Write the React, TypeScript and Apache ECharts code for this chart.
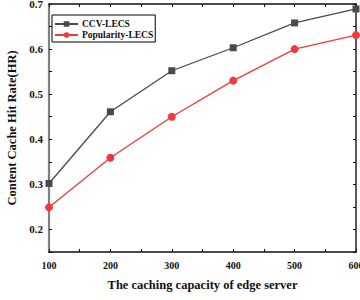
import React, { useEffect, useRef } from "react";
import * as echarts from "echarts";

const capacities = [100, 200, 300, 400, 500, 600];
const ccvLecs = [0.302, 0.461, 0.552, 0.603, 0.658, 0.689];
const popularityLecs = [0.249, 0.359, 0.45, 0.53, 0.6, 0.631];
const seriesNames = ["CCV-LECS", "Popularity-LECS"];

const FONT = "'Liberation Serif', 'Times New Roman', serif";

export default function App() {
  const ref = useRef<HTMLDivElement>(null);
  useEffect(() => {
    if (!ref.current) return;
    const chart = echarts.init(ref.current, undefined, { renderer: "svg" });
    const pair = (arr: number[]) => capacities.map((c, i) => [c, arr[i]]);
    chart.setOption({
      animation: false,
      grid: { left: 49, right: 4, top: 4, bottom: 48, outerBoundsMode: "none", containLabel: false },
      legend: {
        orient: "vertical",
        left: 52,
        top: 15,
        padding: [4, 2, 2, 2],
        itemGap: 1,
        itemWidth: 23,
        itemHeight: 7,
        borderColor: "#000",
        borderWidth: 1,
        textStyle: { fontFamily: FONT, fontWeight: "bold", fontSize: 9.5, color: "#111", padding: [0, 0, 0, -1] },
        data: seriesNames,
      },
      xAxis: [
        {
          type: "value",
          min: 100,
          max: 600,
          interval: 50,
          name: "The caching capacity of edge server",
          nameLocation: "middle",
          nameGap: 26,
          nameTextStyle: { fontFamily: FONT, fontWeight: "bold", fontSize: 12.5, color: "#111" },
          axisLine: { lineStyle: { color: "#111", width: 1.5 } },
          axisTick: { inside: true, length: 3, lineStyle: { color: "#111" } },
          axisLabel: {
            margin: 8,
            fontFamily: FONT,
            fontWeight: "bold",
            fontSize: 10,
            color: "#111",
            alignMinLabel: "center",
            alignMaxLabel: "center",
            formatter: (v: number) => (v % 100 === 0 ? String(v) : ""),
          },
          splitLine: { show: false },
        },
        {
          type: "value",
          position: "top",
          min: 100,
          max: 600,
          interval: 50,
          axisLine: { lineStyle: { color: "#111", width: 1.5 } },
          axisTick: { inside: true, length: 3, lineStyle: { color: "#111" } },
          axisLabel: { show: false },
          splitLine: { show: false },
        },
      ],
      yAxis: [
        {
          type: "value",
          min: 0.15,
          max: 0.7,
          interval: 0.05,
          name: "Content Cache Hit Rate(HR)",
          nameLocation: "middle",
          nameGap: 22,
          nameTextStyle: { fontFamily: FONT, fontWeight: "bold", fontSize: 12.5, color: "#111" },
          axisLine: { lineStyle: { color: "#808080", width: 2.2 } },
          axisTick: { inside: true, length: 3, lineStyle: { color: "#111" } },
          axisLabel: {
            margin: 6,
            fontFamily: FONT,
            fontWeight: "bold",
            fontSize: 11,
            color: "#111",
            formatter: (v: number) => {
              const r = Math.round(v * 100);
              return r % 10 === 0 ? (r / 100).toFixed(1) : "";
            },
          },
          splitLine: { show: false },
        },
        {
          type: "value",
          position: "right",
          min: 0.15,
          max: 0.7,
          interval: 0.05,
          axisLine: { lineStyle: { color: "#222", width: 1.5 } },
          axisTick: { inside: true, length: 3, lineStyle: { color: "#111" } },
          axisLabel: { show: false },
          splitLine: { show: false },
        },
      ],
      series: [
        {
          name: seriesNames[0],
          type: "line",
          data: pair(ccvLecs),
          symbol: "rect",
          symbolSize: 7,
          itemStyle: { color: "#4a4a4a" },
          lineStyle: { color: "#4a4a4a", width: 1.3 },
        },
        {
          name: seriesNames[1],
          type: "line",
          data: pair(popularityLecs),
          symbol: "circle",
          symbolSize: 8,
          itemStyle: { color: "#f23a3a" },
          lineStyle: { color: "#f23a3a", width: 1.3 },
        },
      ],
    });
    return () => chart.dispose();
  }, []);
  return <div ref={ref} style={{ width: 360, height: 300, position: "absolute", left: 0, top: 0 }} />;
}
